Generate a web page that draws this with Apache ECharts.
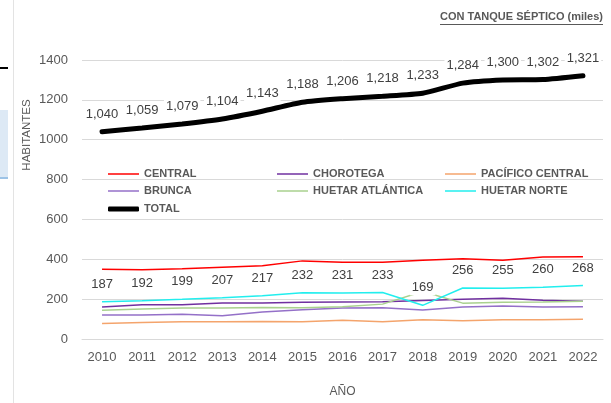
<!DOCTYPE html>
<html>
<head>
<meta charset="utf-8">
<script src="https://cdn.jsdelivr.net/npm/echarts@6/dist/echarts.min.js"></script>
<style>
  html, body { margin: 0; padding: 0; background: #fff; }
  #chart { width: 611px; height: 403px; }
</style>
</head>
<body>
<div id="chart"></div>
<script>
const years = ['2010', '2011', '2012', '2013', '2014', '2015', '2016', '2017', '2018', '2019', '2020', '2021', '2022'];

const central = [350, 347, 352, 360, 368, 392, 385, 385, 395, 403, 395, 411, 413];
const chorotega = [161, 172, 172, 181, 181, 184, 186, 187, 193, 199, 204, 195, 190];
const pacificoCentral = [78, 83, 86, 87, 88, 86, 94, 87, 97, 92, 96, 97, 99];
const brunca = [120, 120, 124, 117, 135, 147, 156, 157, 145, 160, 165, 161, 162];
const huetarAtlantica = [144, 150, 155, 155, 158, 157, 162, 175, 238, 180, 185, 186, 190];
const huetarNorte = [187, 192, 199, 207, 217, 232, 231, 233, 169, 256, 255, 260, 268];
const total = [1040, 1059, 1079, 1104, 1143, 1188, 1206, 1218, 1233, 1284, 1300, 1302, 1321];

const yTicks = { min: 0, max: 1400, interval: 200 };

const FONT = 'Liberation Sans';
const TEXT = '#595959';
const GRID = '#d9d9d9';

const titleText = 'CON TANQUE SÉPTICO (miles)';
const titleFont = 'bold 11px "' + FONT + '"';

// width of the title, for the underline
const measure = function (text, font) {
  const ctx = document.createElement('canvas').getContext('2d');
  ctx.font = font;
  return ctx.measureText(text).width;
};
const titleW = measure(titleText, titleFont);

const dataLabel = {
  show: true,
  position: 'top',
  distance: 10,
  color: '#404040',
  fontSize: 13,
  fontFamily: FONT,
  backgroundColor: '#fff',
  padding: [1, 2],
  formatter: p => p.value.toLocaleString('en-US'),
};

// symbols of size 0, so the labels still have an anchor
const thin = (name, data, color) => ({
  type: 'line',
  name,
  data,
  symbol: 'circle',
  symbolSize: 0,
  lineStyle: { width: 1.5, color },
  itemStyle: { color },
});

const series = [
  thin('CENTRAL', central, '#ff0000'),
  thin('CHOROTEGA', chorotega, '#7030a0'),
  thin('PACÍFICO CENTRAL', pacificoCentral, '#f4a46c'),
  thin('BRUNCA', brunca, '#9470c8'),
  thin('HUETAR ATLÁNTICA', huetarAtlantica, '#a9d18e'),
  Object.assign(thin('HUETAR NORTE', huetarNorte, '#22eeee'), { label: dataLabel, z: 3 }),
  {
    type: 'line',
    name: 'TOTAL',
    data: total,
    symbol: 'circle',
    symbolSize: 0,
    smooth: 0.2,
    lineStyle: { width: 5, color: '#000', cap: 'round' },
    itemStyle: { color: '#000' },
    label: dataLabel,
  },
];

const legendCol = (left, top, data, h) => ({
  orient: 'vertical',
  left,
  top,
  data,
  icon: h > 2 ? 'roundRect' : 'rect',
  itemWidth: 31,
  itemHeight: h,
  itemGap: 6,
  textStyle: { color: TEXT, fontWeight: 'bold', fontSize: 11, fontFamily: FONT },
});

const chart = echarts.init(document.getElementById('chart'));

chart.setOption({
  animation: false,
  textStyle: { fontFamily: FONT },
  grid: { left: 82, right: 8, top: 60, bottom: 62 },
  legend: [
    legendCol(103, 163.5, ['CENTRAL', 'BRUNCA'], 1.5),
    legendCol(103, 198.5, ['TOTAL'], 5),
    legendCol(272, 163.5, ['CHOROTEGA', 'HUETAR ATLÁNTICA'], 1.5),
    legendCol(440, 163.5, ['PACÍFICO CENTRAL', 'HUETAR NORTE'], 1.5),
  ],
  xAxis: {
    type: 'category',
    data: years,
    axisTick: { show: false },
    axisLine: { lineStyle: { color: GRID } },
    axisLabel: { color: TEXT, fontSize: 13, margin: 12 },
    name: 'AÑO',
    nameLocation: 'middle',
    nameGap: 47,
    nameTextStyle: { color: TEXT, fontSize: 12 },
  },
  yAxis: {
    type: 'value',
    min: yTicks.min,
    max: yTicks.max,
    interval: yTicks.interval,
    axisLine: { show: false },
    axisTick: { show: false },
    axisLabel: { color: TEXT, fontSize: 13, margin: 14, formatter: v => String(v) },
    splitLine: { lineStyle: { color: GRID } },
  },
  graphic: [
    {
      type: 'text',
      x: 603,
      y: 17,
      style: { text: titleText, font: titleFont, fill: TEXT, align: 'right', verticalAlign: 'middle' },
    },
    {
      type: 'line',
      shape: { x1: 603 - titleW, y1: 24.5, x2: 603, y2: 24.5 },
      style: { stroke: TEXT, lineWidth: 1 },
    },
    {
      type: 'text',
      x: 27,
      y: 135,
      rotation: Math.PI / 2,
      style: { text: 'HABITANTES', font: '11.5px "' + FONT + '"', fill: TEXT, align: 'center', verticalAlign: 'middle' },
    },
    // bits of the neighbouring page at the left edge
    { type: 'line', shape: { x1: 13.5, y1: 0, x2: 13.5, y2: 403 }, style: { stroke: '#e3e3e3', lineWidth: 1 } },
    { type: 'line', shape: { x1: 0, y1: 68, x2: 8, y2: 68 }, style: { stroke: '#000', lineWidth: 2 } },
    { type: 'rect', shape: { x: 0, y: 110, width: 8, height: 68 }, style: { fill: '#dde9f5' } },
    { type: 'line', shape: { x1: 0, y1: 178, x2: 8, y2: 178 }, style: { stroke: '#9dc3e6', lineWidth: 2 } },
  ],
  series,
});
</script>
</body>
</html>
